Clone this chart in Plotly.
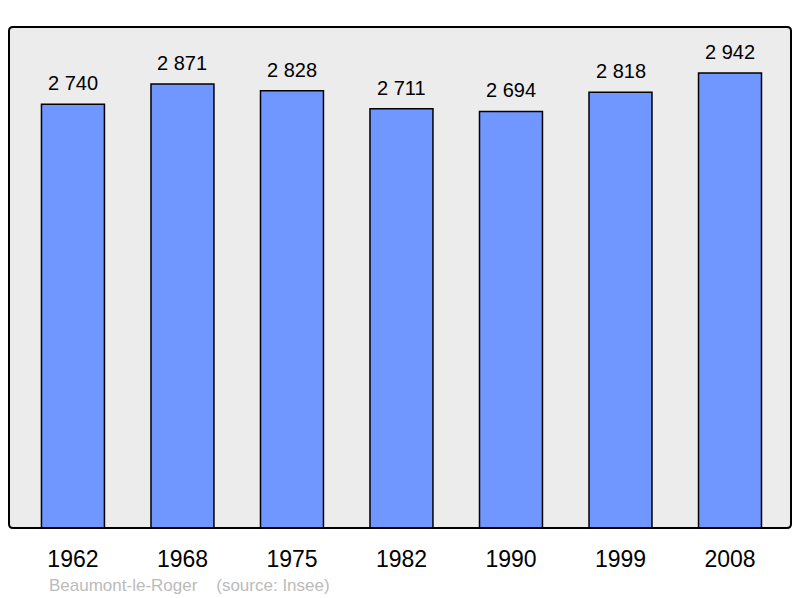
import plotly.graph_objects as go

years = ["1962", "1968", "1975", "1982", "1990", "1999", "2008"]
population = [2740, 2871, 2828, 2711, 2694, 2818, 2942]
footer_text = "Beaumont-le-Roger    (source: Insee)"

W, H = 800, 598
L, R, T, B = 9, 9, 27, 70
pw, ph = W - L - R, H - T - B
FONT = "Liberation Sans, Arial, sans-serif"

fig = go.Figure()
fig.add_trace(go.Bar(
    x=list(range(len(years))), y=population,
    width=0.575,
    marker=dict(color="#7096ff", line=dict(color="#000000", width=1.5)),
    hoverinfo="skip",
))

for i, v in enumerate(population):
    fig.add_annotation(
        x=i, y=v, xref="x", yref="y",
        text=f"{v:,}".replace(",", " "),
        showarrow=False, yanchor="bottom", yshift=8,
        font=dict(family=FONT, size=20, color="#000000"),
    )

fig.add_annotation(
    x=(47 - L) / pw, y=(528 - 585) / ph, xref="paper", yref="paper",
    text=footer_text, showarrow=False, xanchor="left", yanchor="middle",
    font=dict(family=FONT, size=17, color="#bbbbbb"),
)

# rounded border around plot area
rx, ry = 4 / pw, 4 / ph
path = (f"M {rx},0 L {1-rx},0 Q 1,0 1,{ry} L 1,{1-ry} Q 1,1 {1-rx},1 "
        f"L {rx},1 Q 0,1 0,{1-ry} L 0,{ry} Q 0,0 {rx},0 Z")
fig.add_shape(type="path", path=path, xref="paper", yref="paper",
              line=dict(color="#000000", width=2), layer="above")

fig.update_layout(
    width=W, height=H,
    margin=dict(l=L, r=R, t=T, b=B, pad=0),
    paper_bgcolor="#ffffff", plot_bgcolor="#ececec",
    showlegend=False,
    xaxis=dict(
        range=[-0.584, 6.557], tickmode="array",
        tickvals=list(range(len(years))), ticktext=years,
        ticks="outside", ticklen=10, tickcolor="rgba(0,0,0,0)",
        showgrid=False, zeroline=False, showline=False,
        tickfont=dict(family=FONT, size=23, color="#000000"),
    ),
    yaxis=dict(range=[0, 3240], showticklabels=False, showgrid=False,
               zeroline=False, showline=False, ticks=""),
)

fig.write_html("out.html", config={"displayModeBar": False},
               post_script="document.body.style.margin='0';document.body.style.overflow='hidden';")
